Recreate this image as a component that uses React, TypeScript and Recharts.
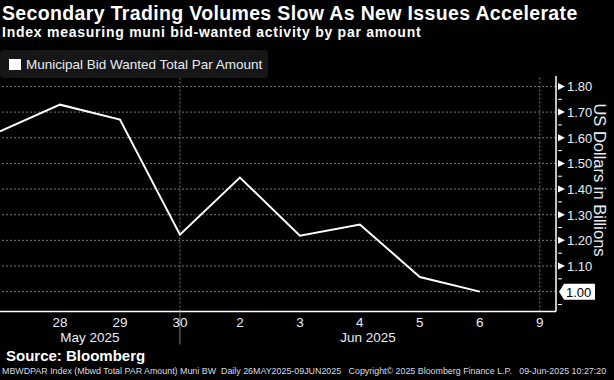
import { Legend, Line, LineChart, ReferenceLine, XAxis, YAxis } from "recharts";

const categories = ["27", "28", "29", "30", "2", "3", "4", "5", "6", "9"];
const bidWanted = [1.625, 1.729, 1.671, 1.222, 1.445, 1.218, 1.262, 1.057, 1.0];
const majorTicks = [1.0, 1.1, 1.2, 1.3, 1.4, 1.5, 1.6, 1.7, 1.8];
const minorTicks = [0.95, 1.05, 1.15, 1.25, 1.35, 1.45, 1.55, 1.65, 1.75];
const months = ["May 2025", "Jun 2025"];
const monthBreak = 3; // index of "30"
const verticalGrid = [3, 9];

const X_MAX = 9.27;
const Y_DOMAIN: [number, number] = [0.9226, 1.8408];
const FONT = "'Liberation Sans', Arial, sans-serif";
const TEXT = "#e6edf5";
const GRID = "#7a7a7a";

const data = bidWanted.map((v, i) => ({ i, v }));
const lastValue = bidWanted[bidWanted.length - 1];
const monthMids = [monthBreak / 2, (monthBreak + X_MAX) / 2];

function YTick(props: any) {
  const { x, y, payload } = props;
  const val = payload.value as number;
  const isMajor = majorTicks.some((m) => Math.abs(m - val) < 1e-6);
  if (!isMajor) {
    return <line x1={x} x2={x + 4} y1={y} y2={y} stroke="#fff" strokeWidth={1} />;
  }
  if (Math.abs(val - lastValue) < 1e-6) {
    return (
      <g>
        <polygon
          points={`${x + 1},${y} ${x + 6},${y - 8} ${x + 37},${y - 8} ${x + 37},${y + 8} ${x + 6},${y + 8}`}
          fill="#fff"
        />
        <text x={x + 8} y={y} dy={5} fill="#000" fontSize={13} fontFamily={FONT}>
          {val.toFixed(2)}
        </text>
      </g>
    );
  }
  return (
    <g>
      <polygon points={`${x},${y - 3.5} ${x + 7},${y} ${x},${y + 3.5}`} fill="#fff" />
      <text x={x + 9} y={y} dy={5} fill={TEXT} fontSize={13} fontFamily={FONT}>
        {val.toFixed(2)}
      </text>
    </g>
  );
}

function DayTick(props: any) {
  const { x, y, payload } = props;
  const idx = Math.round(payload.value);
  return (
    <g>
      {idx === monthBreak && (
        <line x1={x} x2={x} y1={y - 2} y2={y + 31} stroke={GRID} strokeWidth={1} />
      )}
      <text x={x} y={y} dy={13} textAnchor="middle" fill={TEXT} fontSize={13.5} fontFamily={FONT}>
        {categories[idx]}
      </text>
    </g>
  );
}

function MonthTick(props: any) {
  const { x, y, payload, index } = props;
  return (
    <text x={x} y={y} dy={15} textAnchor="middle" fill={TEXT} fontSize={13.5} fontFamily={FONT}>
      {months[index] ?? String(payload.value)}
    </text>
  );
}

function LegendBox() {
  return (
    <div
      style={{
        background: "#161616",
        borderRadius: 4,
        width: 268,
        height: 28,
        display: "flex",
        alignItems: "center",
        boxSizing: "border-box",
        paddingLeft: 9,
      }}
    >
      <span style={{ width: 12, height: 11, background: "#fff", marginRight: 5 }} />
      <span style={{ color: TEXT, fontFamily: FONT, fontSize: 13.5 }}>
        Municipal Bid Wanted Total Par Amount
      </span>
    </div>
  );
}

function AxisTitle(props: any) {
  const { viewBox } = props;
  const cx = viewBox.x + 44;
  const cy = 180;
  return (
    <text
      x={cx}
      y={cy}
      transform={`rotate(90 ${cx} ${cy})`}
      textAnchor="middle"
      dominantBaseline="central"
      fill={TEXT}
      fontSize={16.5}
      fontFamily={FONT}
    >
      US Dollars in Billions
    </text>
  );
}

export default function App() {
  return (
    <div style={{ position: "relative", width: 614, height: 380, background: "#000", overflow: "hidden" }}>
      <style>{"body{margin:0;background:#000}"}</style>
      <div
        style={{
          position: "absolute",
          left: 2,
          top: 2,
          color: "#fff",
          fontFamily: FONT,
          fontWeight: 700,
          fontSize: 19.5,
          letterSpacing: 0.35,
          whiteSpace: "nowrap",
        }}
      >
        Secondary Trading Volumes Slow As New Issues Accelerate
      </div>
      <div
        style={{
          position: "absolute",
          left: 2,
          top: 24,
          color: "#fff",
          fontFamily: FONT,
          fontWeight: 700,
          fontSize: 14,
          letterSpacing: 0.75,
          whiteSpace: "nowrap",
        }}
      >
        Index measuring muni bid-wanted activity by par amount
      </div>
      <div style={{ position: "absolute", left: 0, top: 0 }}>
        <LineChart
          width={614}
          height={380}
          data={data}
          margin={{ top: 48, right: 0, left: 0, bottom: 38.5 }}
        >
          {majorTicks.map((t) => (
            <ReferenceLine key={t} y={t} stroke={GRID} strokeDasharray="2 2" ifOverflow="hidden" />
          ))}
          {verticalGrid.map((t) => (
            <ReferenceLine key={t} x={t} stroke={GRID} strokeDasharray="2 2" ifOverflow="hidden" />
          ))}
          <XAxis
            dataKey="i"
            type="number"
            domain={[0, X_MAX]}
            ticks={[1, 2, 3, 4, 5, 6, 7, 8, 9]}
            allowDataOverflow
            height={13}
            tickSize={0}
            tickLine={false}
            axisLine={{ stroke: "#fff", strokeWidth: 1.5 }}
            tick={<DayTick />}
            interval={0}
          />
          <XAxis
            xAxisId="month"
            dataKey="i"
            type="number"
            domain={[0, X_MAX]}
            ticks={monthMids}
            allowDataOverflow
            height={17}
            tickSize={0}
            tickLine={false}
            axisLine={false}
            tick={<MonthTick />}
            interval={0}
          />
          <YAxis
            orientation="right"
            width={58}
            domain={Y_DOMAIN}
            allowDataOverflow
            ticks={[...minorTicks, ...majorTicks].sort((a, b) => a - b)}
            interval={0}
            tickSize={0}
            tickLine={false}
            axisLine={{ stroke: "#fff", strokeWidth: 1.5 }}
            tick={<YTick />}
            label={<AxisTitle />}
          />
          <Legend
            verticalAlign="top"
            align="left"
            content={<LegendBox />}
            wrapperStyle={{ position: "absolute", top: 50, left: 0, width: 268 }}
          />
          <Line
            dataKey="v"
            stroke="#fff"
            strokeWidth={2}
            dot={false}
            isAnimationActive={false}
          />
        </LineChart>
      </div>
      <div
        style={{
          position: "absolute",
          left: 6,
          top: 347,
          color: "#fff",
          fontFamily: FONT,
          fontWeight: 700,
          fontSize: 15,
          whiteSpace: "nowrap",
        }}
      >
        Source: Bloomberg
      </div>
      <div
        style={{
          position: "absolute",
          left: 2,
          top: 366,
          color: "#d8dde3",
          fontFamily: FONT,
          fontSize: 8.9,
          lineHeight: "11px",
          whiteSpace: "pre",
        }}
      >
        {"MBWDPAR Index (Mbwd Total PAR Amount) Muni BW  Daily 26MAY2025-09JUN2025   Copyright\u00a9 2025 Bloomberg Finance L.P.   09-Jun-2025 10:27:20"}
      </div>
    </div>
  );
}
